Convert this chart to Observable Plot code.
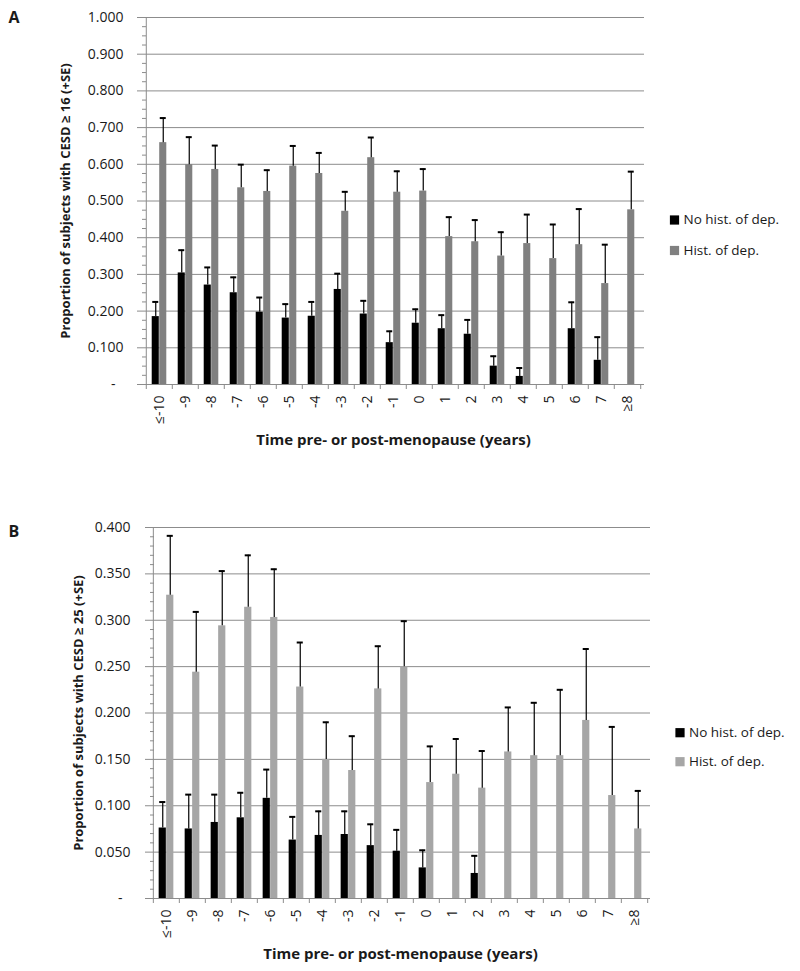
<!DOCTYPE html>
<html><head><meta charset="utf-8">
<script src="https://cdn.jsdelivr.net/npm/d3@7"></script>
<script src="https://cdn.jsdelivr.net/npm/@observablehq/plot@0.6"></script>
<style>body{margin:0;background:#fff;} #chart svg{display:block;}</style>
</head><body><div id="chart"></div>
<script>
const categories = ["≤-10","-9","-8","-7","-6","-5","-4","-3","-2","-1","0","1","2","3","4","5","6","7","≥8"];
const seriesNames = ["No hist. of dep.", "Hist. of dep."];

// Panel A: CESD >= 16
const noHistA      = [0.185,0.304,0.271,0.250,0.197,0.181,0.186,0.259,0.192,0.114,0.167,0.152,0.137,0.050,0.022,null,0.152,0.066,null];
const noHistUpperA = [0.225,0.366,0.319,0.292,0.237,0.219,0.225,0.302,0.228,0.145,0.205,0.189,0.176,0.077,0.045,null,0.224,0.129,null];
const histA        = [0.659,0.599,0.586,0.536,0.526,0.595,0.575,0.472,0.618,0.524,0.527,0.403,0.389,0.350,0.384,0.343,0.381,0.275,0.476];
const histUpperA   = [0.726,0.674,0.651,0.599,0.584,0.650,0.631,0.525,0.673,0.581,0.587,0.456,0.448,0.415,0.463,0.436,0.478,0.381,0.580];
const yTicksA = [0,0.1,0.2,0.3,0.4,0.5,0.6,0.7,0.8,0.9,1.0];

// Panel B: CESD >= 25
const noHistB      = [0.076,0.075,0.082,0.087,0.108,0.063,0.068,0.069,0.057,0.051,0.033,null,0.027,null,null,null,null,null,null];
const noHistUpperB = [0.104,0.112,0.112,0.114,0.139,0.088,0.094,0.094,0.080,0.074,0.052,null,0.046,null,null,null,null,null,null];
const histB        = [0.327,0.244,0.294,0.314,0.303,0.228,0.150,0.138,0.226,0.250,0.125,0.134,0.119,0.158,0.154,0.154,0.192,0.111,0.075];
const histUpperB   = [0.391,0.309,0.353,0.370,0.355,0.276,0.190,0.175,0.272,0.299,0.164,0.172,0.159,0.206,0.211,0.225,0.269,0.185,0.116];
const yTicksB = [0,0.05,0.1,0.15,0.2,0.25,0.3,0.35,0.4];

const gridColor = "#8c8c8c";
const textColor = "#1a1a1a";
const fontFamily = "'Open Sans', sans-serif";

function panel(cfg) {
  const width = 800;
  const {marginLeft, marginRight, marginTop, marginBottom, height} = cfg;
  const bw = (width - marginLeft - marginRight) / categories.length;
  const barW = 7.5, capHalf = 3.2;
  const black = [], gray = [];
  categories.forEach((c, i) => {
    if (cfg.noHist[i] != null) black.push({cat: c, v: cfg.noHist[i], up: cfg.noHistUp[i]});
    if (cfg.hist[i] != null) gray.push({cat: c, v: cfg.hist[i], up: cfg.histUp[i]});
  });
  const yMax = cfg.yTicks[cfg.yTicks.length - 1];
  const minor = d3.range(0, yMax + 1e-9, cfg.minorStep).filter(v => !cfg.yTicks.some(t => Math.abs(t - v) < 1e-9));
  const fmt = d => d === 0 ? "-\u2007" : d3.format(".3f")(d);
  const TL = (px, py) => ({frameAnchor: "top-left", dx: px - marginLeft, dy: py - marginTop});
  return Plot.plot({
    width, height, marginTop, marginBottom, marginLeft, marginRight,
    style: {fontFamily, fontSize: "14px", color: textColor, background: "#fff"},
    x: {domain: categories, padding: 0, axis: null, label: null},
    y: {domain: [0, yMax], axis: null, label: null},
    marks: [
      Plot.gridY({ticks: cfg.yTicks, stroke: gridColor, strokeOpacity: 1}),
      Plot.ruleY([0], {stroke: gridColor}),
      Plot.barY(black, {x: "cat", y: "v", fill: "#000", insetLeft: bw/2 - barW, insetRight: bw/2}),
      Plot.barY(gray, {x: "cat", y: "v", fill: cfg.histColor, insetLeft: bw/2, insetRight: bw/2 - barW}),
      Plot.ruleX(black, {x: "cat", y1: "v", y2: "up", dx: -barW/2, stroke: "#000", strokeWidth: 1.2}),
      Plot.tickY(black, {x: "cat", y: "up", insetLeft: bw/2 - barW/2 - capHalf, insetRight: bw/2 + barW/2 - capHalf, stroke: "#000", strokeWidth: 2}),
      Plot.ruleX(gray, {x: "cat", y1: "v", y2: "up", dx: barW/2, stroke: "#000", strokeWidth: 1.2}),
      Plot.tickY(gray, {x: "cat", y: "up", insetLeft: bw/2 + barW/2 - capHalf, insetRight: bw/2 - barW/2 - capHalf, stroke: "#000", strokeWidth: 2}),
      // y axis line
      Plot.ruleX([categories[0]], {x: d => d, dx: -bw/2, y1: 0, y2: yMax, stroke: gridColor}),
      Plot.axisY({ticks: cfg.yTicks, tickSize: 5, tickPadding: cfg.yTickPadding, tickFormat: fmt, stroke: gridColor, fill: textColor, fontSize: 14, label: null}),
      Plot.axisY({ticks: minor, tickSize: 4, dx: 4, tickFormat: () => "", stroke: gridColor, label: null}),
      // x axis boundary ticks
      Plot.axisX({ticks: categories, tickSize: 5, dx: -bw/2, tickFormat: () => "", stroke: gridColor, label: null}),
      Plot.axisX({ticks: [categories[categories.length - 1]], tickSize: 5, dx: bw/2, tickFormat: () => "", stroke: gridColor, label: null}),
      Plot.axisX({ticks: categories, tickSize: 0, tickPadding: 11, tickRotate: -90, fill: textColor, fontSize: 14, label: null}),
      // titles
      Plot.text([cfg.letter], {text: d => d, ...TL(cfg.letterX, cfg.letterY), textAnchor: "start", lineAnchor: "bottom", fontWeight: "bold", fontSize: 16, fill: textColor}),
      Plot.text([cfg.yTitle], {text: d => d, frameAnchor: "left", dx: cfg.yTitleX - marginLeft, rotate: -90, textAnchor: "middle", fontWeight: "bold", fontSize: 13, fill: textColor}),
      Plot.text([cfg.xTitle], {text: d => d, frameAnchor: "bottom", dy: cfg.xTitleDy, textAnchor: "middle", lineAnchor: "middle", fontWeight: "bold", fontSize: 15, fill: textColor}),
      // legend
      Plot.dot([0], {...TL(cfg.legendX, cfg.legendY), symbol: "square", r: 5.2, fill: "#000", stroke: null}),
      Plot.dot([0], {...TL(cfg.legendX, cfg.legendY + cfg.legendGap), symbol: "square", r: 5.2, fill: cfg.histColor, stroke: null}),
      Plot.text([seriesNames[0]], {text: d => d, ...TL(cfg.legendX + 9, cfg.legendY), textAnchor: "start", lineAnchor: "middle", fontSize: 13.5, fill: textColor}),
      Plot.text([seriesNames[1]], {text: d => d, ...TL(cfg.legendX + 9, cfg.legendY + cfg.legendGap), textAnchor: "start", lineAnchor: "middle", fontSize: 13.5, fill: textColor})
    ]
  });
}

const chart = document.getElementById("chart");
chart.appendChild(panel({
  letter: "A", letterX: 8, letterY: 22,
  yTitle: "Proportion of subjects with CESD ≥ 16 (+SE)", yTitleX: 65,
  xTitle: "Time pre- or post-menopause (years)", xTitleDy: 56,
  noHist: noHistA, noHistUp: noHistUpperA, hist: histA, histUp: histUpperA,
  yTicks: yTicksA, minorStep: 0.025, histColor: "#808080",
  height: 480, marginTop: 17, marginBottom: 96, marginLeft: 142, marginRight: 156,
  yTickPadding: 14, legendX: 674, legendY: 219.5, legendGap: 30.5
}));
chart.appendChild(panel({
  letter: "B", letterX: 8, letterY: 56,
  yTitle: "Proportion of subjects with CESD ≥ 25 (+SE)", yTitleX: 78,
  xTitle: "Time pre- or post-menopause (years)", xTitleDy: 56,
  noHist: noHistB, noHistUp: noHistUpperB, hist: histB, histUp: histUpperB,
  yTicks: yTicksB, minorStep: 0.01, histColor: "#a6a6a6",
  height: 491, marginTop: 47, marginBottom: 73, marginLeft: 150, marginRight: 150,
  yTickPadding: 15, legendX: 679.5, legendY: 252.2, legendGap: 29
}));
</script>
</body></html>
